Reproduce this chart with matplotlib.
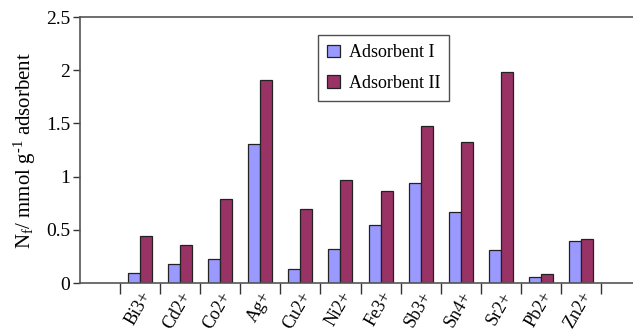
import matplotlib.pyplot as plt
import numpy as np

ions = ["Bi3+", "Cd2+", "Co2+", "Ag+", "Cu2+", "Ni2+", "Fe3+",
        "Sb3+", "Sn4+", "Sr2+", "Pb2+", "Zn2+"]
adsorbent_1 = [0.09, 0.175, 0.23, 1.31, 0.13, 0.32, 0.55, 0.94, 0.665, 0.31, 0.054, 0.40]
adsorbent_2 = [0.44, 0.355, 0.79, 1.91, 0.70, 0.965, 0.867, 1.48, 1.33, 1.98, 0.085, 0.41]

plt.rcParams["font.family"] = ["Liberation Serif", "DejaVu Serif"]
plt.rcParams["mathtext.fontset"] = "custom"
plt.rcParams["mathtext.rm"] = "Liberation Serif"
plt.rcParams["mathtext.it"] = "Liberation Serif:italic"

fig = plt.figure(figsize=(6.33, 3.35), dpi=100)
ax = fig.add_axes([0.1264, 0.155, 0.8736, 0.794])

x = np.arange(len(ions))
w = 0.3
ax.bar(x - w / 2, adsorbent_1, w, color="#9999FF", edgecolor="#222222",
       linewidth=0.9, label="Adsorbent I")
ax.bar(x + w / 2, adsorbent_2, w, color="#993366", edgecolor="#222222",
       linewidth=0.9, label="Adsorbent II")

ax.set_xlim(-1.5, 12.3)
ax.set_ylim(0, 2.5)
ax.set_yticks([0, 0.5, 1, 1.5, 2, 2.5])
ax.set_yticklabels(["0", "0.5", "1", "1.5", "2", "2.5"])

ax.set_xticks(x)
ax.set_xticklabels(ions, rotation=60, ha="right", rotation_mode="anchor")
ax.set_xticks(np.arange(-0.5, 12, 1), minor=True)
ax.tick_params(axis="x", which="major", length=0, pad=4, labelsize=13)
ax.tick_params(axis="x", which="minor", length=8, width=1, color="#333333")
ax.tick_params(axis="y", length=5, width=1, color="#333333", labelsize=14, pad=2)

for side in ("left", "bottom", "top"):
    ax.spines[side].set_color("#555555")
    ax.spines[side].set_linewidth(1.2)
ax.spines["right"].set_visible(False)

ax.set_ylabel("N$_\\mathregular{f}$/ mmol g$^{\\mathregular{\\text{-}1}}$ adsorbent",
              fontsize=15, labelpad=6)

leg = ax.legend(loc="upper left", bbox_to_anchor=(0.414, 0.965), fontsize=13,
                frameon=True, fancybox=False, edgecolor="#222222",
                handlelength=0.7, handleheight=0.7, handletextpad=0.5,
                borderpad=0.5, labelspacing=0.75)
leg.get_frame().set_linewidth(1.0)

fig.savefig("out.png", dpi=100)
